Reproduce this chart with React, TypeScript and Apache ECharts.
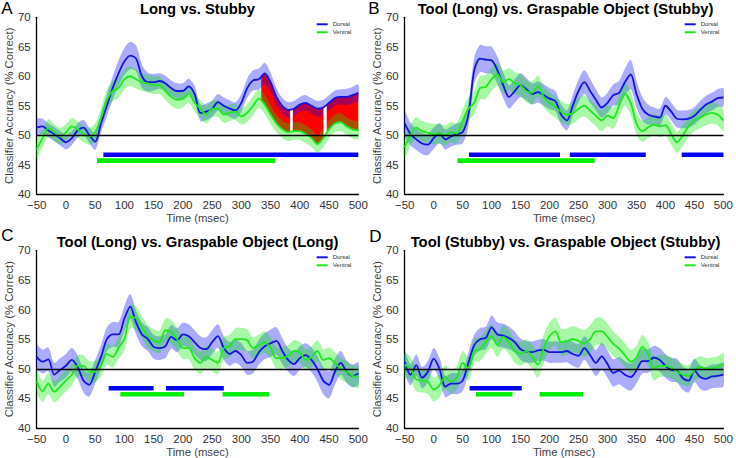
import React, { useEffect, useRef } from 'react';
import * as echarts from 'echarts';

// ---------- data ----------
const TIMES = [
  -50, -40, -30, -20, -10, 0, 10, 20, 30, 40,
  50, 60, 70, 80, 90, 100, 110, 120, 130, 140,
  150, 160, 170, 180, 190, 200, 210, 220, 230, 240,
  250, 260, 270, 280, 290, 300, 310, 320, 330, 340,
  350, 360, 370, 380, 390, 400, 410, 420, 430, 440,
  450, 460, 470, 480, 490, 500,
];

const TITLES = [
  'Long vs. Stubby',
  'Tool (Long) vs. Graspable Object (Stubby)',
  'Tool (Long) vs. Graspable Object (Long)',
  'Tool (Stubby) vs. Graspable Object (Stubby)',
];
const LETTERS = ['A', 'B', 'C', 'D'];
const SERIES_NAMES = ['Dorsal', 'Ventral'];
const CHANCE = 50;
const SIG_LEVEL_DORSAL = 46.7;
const SIG_LEVEL_VENTRAL = 45.7;

// Panel A
const A_DORSAL = [
  51.3, 51.5, 50.8, 50.2, 49.5, 48.8, 49.5, 50.8, 51.3, 50,
  48.9, 52, 55, 58, 60.5, 62.5, 63.5, 63, 60, 59,
  59, 59.2, 58.8, 58, 57.5, 57.5, 58.3, 57, 53.8, 54,
  54.5, 55.6, 55, 54.5, 54.2, 55.5, 58, 59.3, 59.5, 60.5,
  59, 56.5, 55, 54.3, 54.5, 55.2, 55.5, 55, 54.5, 54.7,
  55.5, 56.3, 56.5, 56.5, 56.8, 57.2,
];
const A_DORSAL_SE = [
  1.4, 1.3, 1.2, 1.2, 1.2, 1.2, 1.2, 1.2, 1.3, 1.3,
  1.4, 1.6, 1.8, 2, 2.2, 2.3, 2.3, 2.2, 2, 1.6,
  1.4, 1.3, 1.3, 1.3, 1.3, 1.3, 1.3, 1.4, 1.4, 1.4,
  1.4, 1.4, 1.4, 1.4, 1.4, 1.5, 1.6, 1.7, 1.8, 1.8,
  1.6, 1.5, 1.3, 1.3, 1.3, 1.3, 1.3, 1.3, 1.3, 1.3,
  1.3, 1.3, 1.3, 1.4, 1.4, 1.4,
];
const A_VENTRAL = [
  47.6, 49.5, 51.2, 50.5, 49.8, 50.5, 51.5, 51, 50.2, 49.8,
  50.5, 53, 56, 57.5, 58, 59.5, 60, 59.5, 59, 58.8,
  58.5, 58.5, 57.5, 56.5, 56, 56.2, 57, 55.5, 54.5, 53.5,
  54.5, 54.5, 53.5, 53.8, 54, 53.2, 53.8, 55, 56.2, 55.2,
  53.5, 52, 51, 50.5, 50.7, 50.7, 50.2, 49.5, 48.5, 49.5,
  51, 52, 52.2, 51.5, 51, 50.8,
];
const A_VENTRAL_SE = [
  1.6, 1.5, 1.5, 1.4, 1.4, 1.4, 1.4, 1.4, 1.4, 1.4,
  1.5, 1.6, 1.7, 1.7, 1.7, 1.7, 1.7, 1.6, 1.5, 1.5,
  1.5, 1.5, 1.5, 1.5, 1.5, 1.5, 1.5, 1.5, 1.5, 1.5,
  1.4, 1.4, 1.4, 1.4, 1.4, 1.4, 1.5, 1.6, 1.6, 1.6,
  1.6, 1.5, 1.5, 1.5, 1.5, 1.5, 1.5, 1.5, 1.5, 1.5,
  1.5, 1.5, 1.5, 1.5, 1.5, 1.5,
];
const A_DORSAL_SIG = [[64, 500]];
const A_VENTRAL_SIG = [[53, 358]];
const A_DIFF_SPANS = [[334, 500]];
const A_DIFF_GAPS = [[383.5, 388], [440.5, 446]];

// Panel B
const B_DORSAL = [
  52, 50.2, 49.3, 48.6, 48.4, 49.5, 50.3, 49.3, 49.8, 50.2,
  50.5, 53.5, 61, 63, 62.8, 62.7, 61, 58.5, 56.5, 57.5,
  58.5, 57.8, 57, 57.3, 56.8, 56.2, 55.8, 53.5, 52.5, 55,
  57.5, 59, 57.5, 56, 54.7, 55.5, 56.8, 57.2, 59, 60.3,
  57, 54.5, 53.5, 53.2, 53, 55, 54, 52.8, 52.7, 52.8,
  53.3, 54.3, 55.2, 55.7, 56.3, 56.4,
];
const B_DORSAL_SE = [
  2.0, 1.9, 1.8, 1.8, 1.8, 1.8, 1.7, 1.7, 1.7, 1.8,
  1.9, 2.0, 2.2, 2.3, 2.3, 2.3, 2.3, 2.2, 2.0, 2.0,
  2.0, 1.9, 1.8, 1.8, 1.8, 1.8, 1.7, 1.7, 1.7, 1.8,
  1.9, 2.0, 2.0, 1.8, 1.7, 1.7, 1.8, 2.0, 2.3, 2.5,
  2.3, 2.0, 1.7, 1.5, 1.5, 1.5, 1.5, 1.5, 1.5, 1.5,
  1.5, 1.5, 1.5, 1.5, 1.5, 1.5,
];
const B_VENTRAL = [
  48, 50, 51.3, 50.7, 50.4, 50.2, 50.3, 50, 50.5, 50.3,
  52.5, 54.5, 55.5, 58, 58.2, 59.5, 60.3, 59, 59.5, 58.8,
  58.5, 57.5, 57.2, 58.3, 56.5, 55.5, 54.8, 54, 53.5, 53.7,
  54.5, 55, 54.2, 53.3, 52.5, 53.3, 52.9, 55, 57, 55.5,
  52, 50.7, 51.3, 51.8, 51.5, 51.7, 50.2, 48.8, 50, 51.5,
  52.5, 53, 53.5, 53.8, 53.5, 52.5,
];
const B_VENTRAL_SE = [
  1.8, 1.8, 1.8, 1.7, 1.7, 1.7, 1.7, 1.7, 1.7, 1.8,
  1.9, 2.0, 2.0, 2.0, 2.0, 2.0, 1.9, 1.9, 1.9, 1.9,
  1.9, 1.9, 1.9, 1.8, 1.8, 1.8, 1.8, 1.8, 1.8, 1.8,
  1.8, 1.8, 1.8, 1.8, 1.8, 1.8, 1.8, 1.9, 2.0, 2.0,
  1.9, 1.8, 1.8, 1.8, 1.8, 1.8, 1.8, 1.8, 1.8, 1.8,
  1.8, 1.8, 1.8, 1.8, 1.8, 1.8,
];
const B_DORSAL_SIG = [[61, 218], [235, 366], [428, 500]];
const B_VENTRAL_SIG = [[41, 278]];

// Panel C
const C_DORSAL = [
  52, 51.2, 51.6, 49, 49.8, 50.5, 51.5, 50.3, 48, 47.3,
  49.5, 52, 55, 55.8, 55.8, 58.5, 60.5, 57.8, 55.8, 55,
  53.7, 53.5, 53.8, 55.4, 54.8, 55.8, 55.5, 54.5, 53.5, 53.3,
  54.5, 55.5, 53.5, 52.5, 53, 52.3, 51, 51.2, 52.8, 53.8,
  54.3, 54.7, 53, 51.5, 50.8, 51.8, 52.3, 51.5, 50, 48,
  47.3, 49.5, 51, 49.5, 48.8, 49.2,
];
const C_DORSAL_SE = [
  2.0, 2.0, 2.0, 2.0, 2.0, 2.0, 2.0, 2.0, 2.0, 2.0,
  2.0, 2.0, 2.0, 2.1, 2.1, 2.1, 2.1, 2.0, 2.0, 2.0,
  2.0, 2.0, 2.0, 2.0, 2.0, 2.0, 2.0, 2.0, 2.0, 2.0,
  2.0, 2.0, 2.0, 2.0, 2.0, 2.0, 2.0, 2.0, 2.1, 2.2,
  2.3, 2.3, 2.2, 2.0, 2.0, 2.0, 2.0, 2.1, 2.2, 2.3,
  2.3, 2.2, 2.0, 1.9, 1.9, 1.9,
];
const C_VENTRAL = [
  47.9, 46.2, 47.5, 46.1, 47, 48, 49, 50.5, 50.5, 49.5,
  49.5, 50.5, 52.5, 52, 53.5, 55, 58.8, 58.5, 57, 55.5,
  54.8, 54.5, 56.5, 56.2, 55, 53.5, 53.5, 51.8, 51, 52,
  51.5, 51, 53.5, 53.8, 55, 55, 54.8, 53.5, 54, 54.5,
  53.5, 51.8, 51.8, 52.2, 53, 52.8, 51.5, 52, 53, 51.5,
  51.8, 51, 50, 49.5, 48.8, 48.6,
];
const C_VENTRAL_SE = [
  1.8, 1.8, 1.8, 1.8, 1.8, 1.8, 1.8, 1.8, 1.8, 1.8,
  1.8, 1.8, 1.8, 1.8, 1.9, 1.9, 2.0, 2.0, 1.9, 1.9,
  1.9, 1.9, 2.0, 2.0, 2.0, 1.9, 1.9, 1.9, 1.9, 1.9,
  1.9, 1.9, 1.9, 1.9, 1.9, 1.9, 1.9, 1.8, 1.8, 1.8,
  1.8, 1.8, 1.8, 1.8, 1.8, 1.8, 1.8, 1.8, 1.8, 1.8,
  1.8, 1.8, 1.8, 1.8, 1.8, 1.8,
];
const C_DORSAL_SIG = [[73, 150], [171, 270]];
const C_VENTRAL_SIG = [[93, 202], [268, 348]];

// Panel D
const D_DORSAL = [
  51.2, 49, 50.6, 48.5, 49.5, 51.7, 50, 47, 47.5, 47.5,
  48, 51, 54, 55, 55.2, 57, 55.8, 55.6, 55.2, 54.5,
  53.3, 52.9, 52.8, 53.1, 53.2, 52.8, 52.8, 52.8, 53, 52.5,
  52.2, 53.5, 52.3, 51, 52.1, 50.8, 49.3, 49.7, 49, 48.6,
  49.7, 51.3, 51.3, 51.9, 51.5, 50.5, 49.8, 49.7, 48.4, 48,
  49.7, 48.6, 48.3, 48.7, 48.8, 49,
];
const D_DORSAL_SE = [
  1.8, 1.8, 1.8, 1.8, 1.8, 1.8, 1.8, 1.8, 1.8, 1.8,
  1.8, 1.8, 1.8, 1.9, 1.9, 2.0, 2.0, 2.0, 1.9, 1.8,
  1.8, 1.8, 1.8, 1.8, 1.8, 1.8, 1.8, 1.8, 1.9, 2.0,
  2.0, 2.0, 2.1, 2.2, 2.3, 2.3, 2.3, 2.3, 2.3, 2.3,
  2.2, 2.1, 2.0, 2.0, 2.0, 2.0, 2.0, 2.0, 2.0, 2.0,
  2.0, 2.0, 2.0, 2.0, 2.0, 2.0,
];
const D_VENTRAL = [
  50.7, 50, 48.2, 48, 47.8, 46.5, 47.2, 48.6, 47.8, 48.5,
  51, 50, 53, 53.3, 54.5, 55.5, 54, 55.4, 54.5, 53,
  52.5, 53, 52, 50.7, 53.5, 55.5, 56.3, 54.5, 54.6, 55,
  54.7, 54.3, 55, 56.3, 56.3, 55.4, 54.2, 53.4, 52.3, 51.2,
  51.9, 53.7, 52.5, 50, 50.5, 50.5, 50.2, 49.5, 49, 48.8,
  49.8, 50.3, 50, 50.1, 50.3, 50.8,
];
const D_VENTRAL_SE = [
  2.0, 2.0, 2.0, 2.0, 2.0, 2.0, 2.0, 2.0, 2.0, 2.0,
  2.0, 2.0, 2.0, 2.0, 2.0, 2.0, 2.0, 2.0, 2.0, 2.0,
  2.0, 2.0, 2.1, 2.2, 2.3, 2.3, 2.4, 2.3, 2.2, 2.2,
  2.2, 2.3, 2.3, 2.3, 2.3, 2.2, 2.1, 2.0, 2.0, 2.0,
  2.0, 2.0, 2.0, 2.0, 1.9, 1.8, 1.8, 1.8, 1.8, 1.8,
  1.8, 1.8, 1.8, 1.8, 1.8, 1.8,
];
const D_DORSAL_SIG = [[62, 152]];
const D_VENTRAL_SIG = [[73, 136], [183, 258]];

// ---------- styling / layout ----------
const FONT = '"Liberation Sans", Arial, Helvetica, sans-serif';
const DORSAL_COLOR = '#1414e0';
const VENTRAL_COLOR = '#1ee81e';
const DORSAL_BAR = '#0000f2';
const VENTRAL_BAR = '#00ee00';
const DORSAL_BAND = 'rgba(0,0,255,0.33)';
const VENTRAL_BAND = 'rgba(0,235,0,0.34)';
const DIFF_FILL = '#ff0000';

const GRIDS = [
  { left: 36.7, top: 17.3, width: 321.6, height: 176.9 },
  { left: 404.7, top: 17.3, width: 321.6, height: 176.9 },
  { left: 36.7, top: 250.3, width: 321.6, height: 177.7 },
  { left: 404.7, top: 250.3, width: 321.6, height: 177.7 },
];
const LETTER_POS = [
  { x: 1.2, y: 0 },
  { x: 368.2, y: 0 },
  { x: 1.2, y: 227 },
  { x: 369.2, y: 228 },
];

const PANELS = [
  { dorsal: A_DORSAL, dorsalSe: A_DORSAL_SE, ventral: A_VENTRAL, ventralSe: A_VENTRAL_SE, dorsalSig: A_DORSAL_SIG, ventralSig: A_VENTRAL_SIG, diff: A_DIFF_SPANS, gaps: A_DIFF_GAPS },
  { dorsal: B_DORSAL, dorsalSe: B_DORSAL_SE, ventral: B_VENTRAL, ventralSe: B_VENTRAL_SE, dorsalSig: B_DORSAL_SIG, ventralSig: B_VENTRAL_SIG, diff: [], gaps: [] },
  { dorsal: C_DORSAL, dorsalSe: C_DORSAL_SE, ventral: C_VENTRAL, ventralSe: C_VENTRAL_SE, dorsalSig: C_DORSAL_SIG, ventralSig: C_VENTRAL_SIG, diff: [], gaps: [] },
  { dorsal: D_DORSAL, dorsalSe: D_DORSAL_SE, ventral: D_VENTRAL, ventralSe: D_VENTRAL_SE, dorsalSig: D_DORSAL_SIG, ventralSig: D_VENTRAL_SIG, diff: [], gaps: [] },
];

function valueAt(arr: number[], t: number): number {
  const j = TIMES.findIndex((x) => x >= t);
  if (j < 0) return arr[arr.length - 1];
  if (TIMES[j] === t || j === 0) return arr[j];
  const t0 = TIMES[j - 1];
  const t1 = TIMES[j];
  const f = (t - t0) / (t1 - t0);
  return arr[j - 1] + (arr[j] - arr[j - 1]) * f;
}

function bandSeries(i: number, mean: number[], se: number[], fill: string) {
  return {
    type: 'custom',
    xAxisIndex: i,
    yAxisIndex: i,
    silent: true,
    clip: true,
    data: [[TIMES[0], mean[0]]],
    renderItem: (_p: any, api: any) => {
      const top = TIMES.map((t, j) => api.coord([t, mean[j] + se[j]]));
      const bot = TIMES.map((t, j) => api.coord([t, mean[j] - se[j]])).reverse();
      return {
        type: 'polygon',
        shape: { points: top.concat(bot), smooth: 0.3 },
        style: { fill },
      };
    },
  };
}

function betweenSeries(i: number, upper: number[], lower: number[], spans: number[][], fill: string) {
  return {
    type: 'custom',
    xAxisIndex: i,
    yAxisIndex: i,
    silent: true,
    clip: true,
    data: [[TIMES[0], upper[0]]],
    renderItem: (_p: any, api: any) => ({
      type: 'group',
      children: spans.map(([a, b]) => {
        const ts = [a, ...TIMES.filter((t) => t > a && t < b), b];
        const top = ts.map((t) => api.coord([t, valueAt(upper, t)]));
        const bot = ts.map((t) => api.coord([t, valueAt(lower, t)])).reverse();
        return { type: 'polygon', shape: { points: top.concat(bot) }, style: { fill } };
      }),
    }),
  };
}

function sigSeries(i: number, spans: number[][], level: number, color: string) {
  return spans.map(([a, b]) => ({
    type: 'line',
    xAxisIndex: i,
    yAxisIndex: i,
    silent: true,
    symbol: 'none',
    showSymbol: false,
    data: [[a, level], [b, level]],
    lineStyle: { color, width: 4.6, cap: 'butt' },
    z: 4,
  }));
}

function buildOption() {
  const series: any[] = [];
  PANELS.forEach((p, i) => {
    if (p.diff.length) series.push(betweenSeries(i, p.dorsal, p.ventral, p.diff, DIFF_FILL));
    series.push(bandSeries(i, p.dorsal, p.dorsalSe, DORSAL_BAND));
    series.push(bandSeries(i, p.ventral, p.ventralSe, VENTRAL_BAND));
    if (p.gaps.length) series.push(betweenSeries(i, p.dorsal, p.ventral, p.gaps, '#ffffff'));
    series.push({
      type: 'line',
      name: SERIES_NAMES[0],
      xAxisIndex: i,
      yAxisIndex: i,
      data: TIMES.map((t, j) => [t, p.dorsal[j]]),
      symbol: 'none',
      showSymbol: false,
      smooth: 0.3,
      silent: true,
      lineStyle: { color: DORSAL_COLOR, width: 1.8 },
      itemStyle: { color: DORSAL_COLOR },
      z: 3,
      markLine: {
        silent: true,
        symbol: ['none', 'none'],
        label: { show: false },
        lineStyle: { color: '#000', width: 1.3, type: 'solid' },
        emphasis: { disabled: true },
        data: [{ yAxis: CHANCE }],
      },
    });
    series.push({
      type: 'line',
      name: SERIES_NAMES[1],
      xAxisIndex: i,
      yAxisIndex: i,
      data: TIMES.map((t, j) => [t, p.ventral[j]]),
      symbol: 'none',
      showSymbol: false,
      smooth: 0.3,
      silent: true,
      lineStyle: { color: VENTRAL_COLOR, width: 1.8 },
      itemStyle: { color: VENTRAL_COLOR },
      z: 3,
    });
    series.push(...sigSeries(i, p.dorsalSig, SIG_LEVEL_DORSAL, DORSAL_BAR));
    series.push(...sigSeries(i, p.ventralSig, SIG_LEVEL_VENTRAL, VENTRAL_BAR));
  });

  const xAxis = GRIDS.map((_g, i) => ({
    type: 'value',
    gridIndex: i,
    min: -50,
    max: 500,
    interval: 50,
    name: 'Time (msec)',
    nameLocation: 'middle',
    nameGap: 18,
    nameTextStyle: { fontSize: 11.3, color: '#444', fontFamily: FONT },
    axisLine: { show: true, onZero: false, lineStyle: { color: '#000', width: 1.3 } },
    axisTick: { show: false },
    splitLine: { show: false },
    axisLabel: {
      color: '#333',
      fontSize: 11.5,
      fontFamily: FONT,
      margin: 5,
      showMinLabel: true,
      showMaxLabel: true,
      formatter: (v: number) => (v < 0 ? '\u2212' + Math.abs(v) : String(v)),
    },
  }));
  const yAxis = GRIDS.map((_g, i) => ({
    type: 'value',
    gridIndex: i,
    min: 40,
    max: 70,
    interval: 5,
    name: 'Classifier Accuracy (% Correct)',
    nameLocation: 'middle',
    nameGap: 20.5,
    nameTextStyle: { fontSize: 11.3, color: '#444', fontFamily: FONT },
    axisLine: { show: true, onZero: false, lineStyle: { color: '#000', width: 1.3 } },
    axisTick: { show: false },
    splitLine: { show: false },
    axisLabel: { color: '#333', fontSize: 11.5, fontFamily: FONT, margin: 6 },
  }));

  const legend = GRIDS.map((g) => ({
    data: SERIES_NAMES,
    orient: 'vertical',
    left: g.left + 280,
    top: g.top + 4,
    padding: 0,
    icon: 'rect',
    itemWidth: 11,
    itemHeight: 2,
    itemGap: 2,
    selectedMode: false,
    textStyle: { fontSize: 6, color: '#333', fontFamily: FONT },
  }));

  const graphic: any[] = [];
  TITLES.forEach((t, i) => {
    const g = GRIDS[i];
    graphic.push({
      type: 'text',
      x: g.left + g.width / 2,
      y: g.top - 8.7,
      silent: true,
      style: { text: t, font: `bold 14.8px ${FONT}`, fill: '#000', align: 'center', verticalAlign: 'middle' },
    });
    graphic.push({
      type: 'text',
      x: LETTER_POS[i].x,
      y: LETTER_POS[i].y,
      silent: true,
      style: { text: LETTERS[i], font: `17px ${FONT}`, fill: '#000', align: 'left', verticalAlign: 'top' },
    });
  });

  return {
    animation: false,
    backgroundColor: '#fff',
    grid: GRIDS.map((g) => ({ ...g, containLabel: false })),
    xAxis,
    yAxis,
    legend,
    graphic,
    series,
  };
}

export default function App() {
  const ref = useRef<HTMLDivElement>(null);
  useEffect(() => {
    if (!ref.current) return;
    const chart = echarts.init(ref.current, null, { renderer: 'svg' });
    chart.setOption(buildOption() as any);
    return () => chart.dispose();
  }, []);
  return (
    <div
      ref={ref}
      style={{ position: 'absolute', left: 0, top: 0, width: 736, height: 458 }}
    />
  );
}
